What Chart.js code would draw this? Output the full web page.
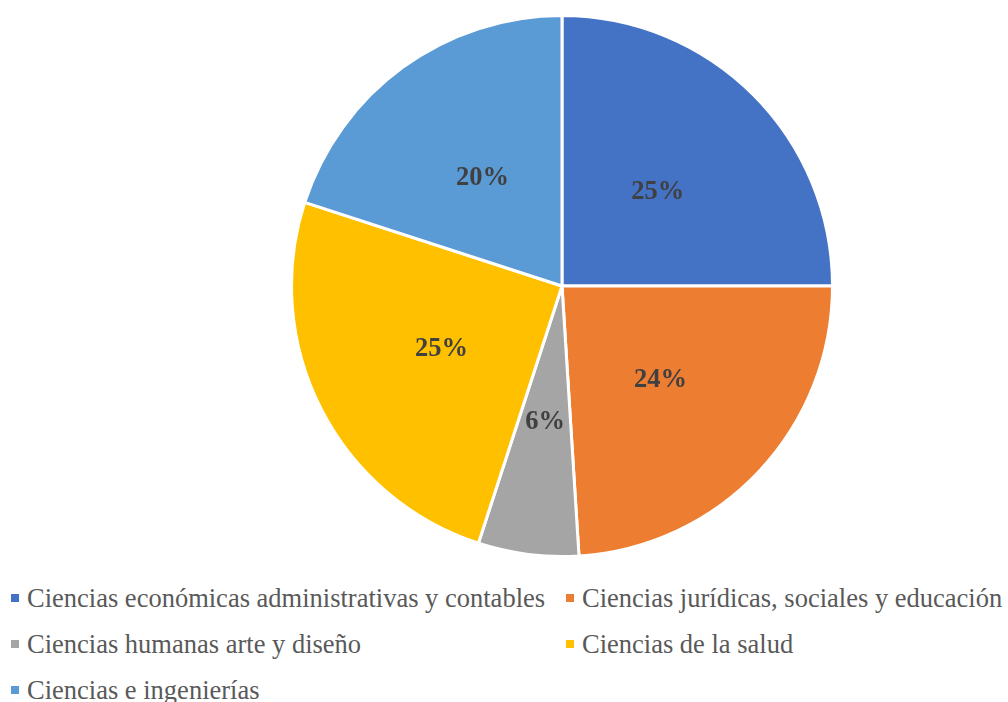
<!DOCTYPE html>
<html>
<head>
<meta charset="utf-8">
<script src="https://cdn.jsdelivr.net/npm/chart.js@4/dist/chart.umd.min.js"></script>
<style>
  body { margin: 0; background: #fff; }
  #wrap { position: relative; width: 1008px; height: 702px; overflow: hidden; }
  #pieBox { position: absolute; left: 290px; top: 14px; width: 544px; height: 544px; }
  #legend { position: absolute; left: 11px; top: 575px; display: grid; grid-template-columns: 555px 440px; }
  .item { height: 46px; display: flex; align-items: center; font-family: "Liberation Serif", "Times New Roman", serif; font-size: 26.5px; color: #595959; white-space: nowrap; }
  .sw { width: 8px; height: 8px; margin-right: 8px; flex: none; }
</style>
</head>
<body>
<div id="wrap">
  <div id="pieBox"><canvas id="chart1"></canvas></div>
  <div id="legend"></div>
</div>
<script>
const categories = [
    'Ciencias económicas administrativas y contables',
    'Ciencias jurídicas, sociales y educación',
    'Ciencias humanas arte y diseño',
    'Ciencias de la salud',
    'Ciencias e ingenierías'
];
const values = [25, 24, 6, 25, 20];
const colors = ['#4472C4', '#ED7D31', '#A5A5A5', '#FFC000', '#5B9BD5'];

const legend = document.getElementById('legend');
categories.forEach((c, i) => {
    const d = document.createElement('div');
    d.className = 'item';
    d.innerHTML = '<span class="sw" style="background:' + colors[i] + '"></span>' + c;
    legend.appendChild(d);
});

const pctLabels = {
    id: 'pctLabels',
    afterDatasetsDraw(chart) {
        const ctx = chart.ctx;
        const meta = chart.getDatasetMeta(0);
        const total = values.reduce((a, b) => a + b, 0);
        ctx.save();
        ctx.font = 'bold 26.5px "Liberation Serif", serif';
        ctx.fillStyle = '#404040';
        ctx.textAlign = 'center';
        ctx.textBaseline = 'middle';
        meta.data.forEach((arc, i) => {
            const p = arc.getCenterPoint();
            ctx.fillText(Math.round(values[i] / total * 100) + '%', p.x, p.y + 2);
        });
        ctx.restore();
    }
};

new Chart(document.getElementById('chart1'), {
    type: 'pie',
    data: {
        labels: categories,
        datasets: [{
            data: values,
            backgroundColor: colors,
            borderColor: '#ffffff',
            borderWidth: 3,
            hoverOffset: 0
        }]
    },
    options: {
        responsive: true,
        maintainAspectRatio: false,
        animation: false,
        plugins: {
            legend: { display: false },
            tooltip: { enabled: false }
        }
    },
    plugins: [pctLabels]
});
</script>
</body>
</html>
